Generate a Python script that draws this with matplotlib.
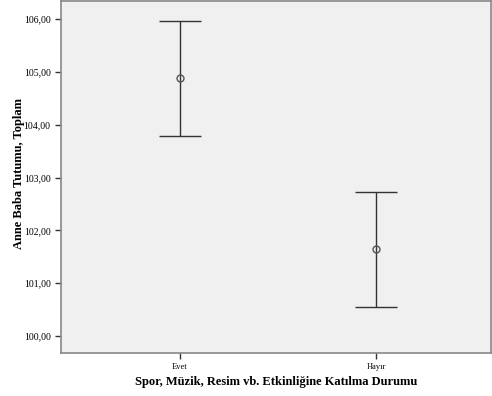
import matplotlib
matplotlib.use("Agg")
import matplotlib.pyplot as plt

categories = ["Evet", "Hayır"]
means = [104.88, 101.64]
lower = [103.78, 100.55]
upper = [105.96, 102.72]
yticks = [100, 101, 102, 103, 104, 105, 106]
ytick_labels = ["100,00", "101,00", "102,00", "103,00", "104,00", "105,00", "106,00"]

plt.rcParams['font.family'] = ['Liberation Serif', 'DejaVu Serif']

fig = plt.figure(figsize=(4.92, 3.96), dpi=100)
ax = fig.add_axes([61/492, 1 - 353/396, 430/492, 352/396])
ax.set_facecolor('#F0F0F0')

x = list(range(len(categories)))
err_lo = [m - l for m, l in zip(means, lower)]
err_hi = [u - m for m, u in zip(means, upper)]
ax.errorbar(x, means, yerr=[err_lo, err_hi], fmt='o', mfc='none', mec='#555555',
            ms=5, mew=1, ecolor='#333333', elinewidth=1, capsize=15, capthick=1)

ax.set_xlim(-0.607, 1.587)
ax.set_ylim(99.68, 106.34)
ax.set_yticks(yticks)
ax.set_yticklabels(ytick_labels, fontsize=7)
ax.set_xticks(x)
ax.set_xticklabels(categories, fontsize=6)
ax.tick_params(axis='both', length=4, width=1, color='#333333')

for s in ax.spines.values():
    s.set_color('#888888')
    s.set_linewidth(1.2)

ax.set_ylabel('Anne Baba Tutumu, Toplam', fontsize=9, fontweight='bold')
ax.yaxis.set_label_coords(-0.083, 0.51)
ax.set_xlabel('Spor, Müzik, Resim vb. Etkinliğine Katılma Durumu', fontsize=9, fontweight='bold', labelpad=3)

fig.savefig('out.png', dpi=100)
